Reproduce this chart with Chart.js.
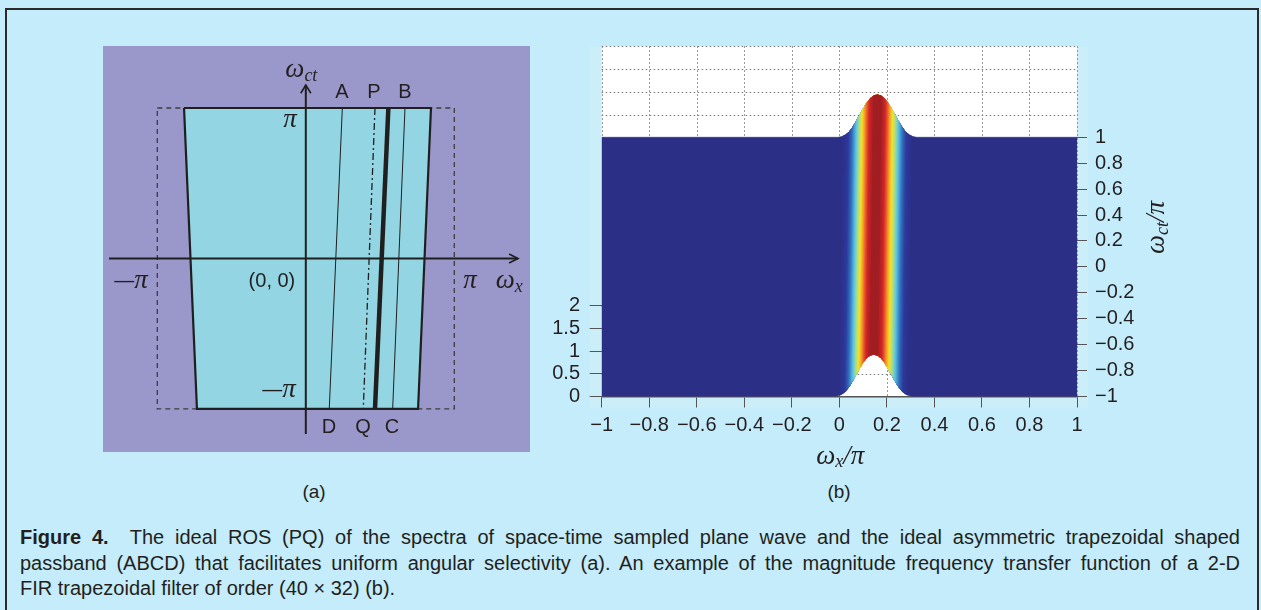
<!DOCTYPE html>
<html>
<head>
<meta charset="utf-8">
<script src="https://cdn.jsdelivr.net/npm/chart.js@4/dist/chart.umd.min.js"></script>
<style>
  html, body { margin: 0; padding: 0; width: 1261px; height: 610px; overflow: hidden;
               background: #c4ecfa; font-family: "Liberation Sans", Arial, sans-serif; color: #231f20; }
  #frame { position: absolute; left: 5px; top: 8px; width: 1250px; height: 700px; border: 2px solid #2a2a2a; }
  #panelA { position: absolute; left: 103px; top: 46px; background: #9a97ca; }
  #panelB { position: absolute; left: 545px; top: 40px; }
  .sub { position: absolute; top: 480px; font-size: 19px; line-height: 24px; transform: translateX(-50%); }
  #caption { position: absolute; left: 20px; top: 525px; width: 1220px; font-size: 20px; line-height: 25.5px; }
  #caption .j { text-align: justify; text-align-last: justify; }
</style>
</head>
<body>
<div id="frame"></div>
<canvas id="panelA" width="427" height="406"></canvas>
<canvas id="panelB" width="650" height="430"></canvas>
<div class="sub" style="left:314px">(a)</div>
<div class="sub" style="left:839px">(b)</div>
<div id="caption">
  <div class="j"><b>Figure 4.</b>&nbsp; The ideal ROS (PQ) of the spectra of space-time sampled plane wave and the ideal asymmetric trapezoidal shaped</div>
  <div class="j">passband (ABCD) that facilitates uniform angular selectivity (a). An example of the magnitude frequency transfer function of a 2-D</div>
  <div>FIR trapezoidal filter of order (40 × 32) (b).</div>
</div>

<script>
// ---------- panel (a): ideal passband, frequencies in units of pi ----------
const boxX = [-1, 1, 1, -1];
const boxY = [1, 1, -1, -1];
const trapX = [-0.820, 0.843, 0.756, -0.733];
const trapY = [1, 1, -1, -1];
// A-D, P-Q, plane wave ROS, B-C : x at wct = +pi and wct = -pi
const lineTopX = [0.246, 0.466, 0.556, 0.668];
const lineBottomX = [0.158, 0.387, 0.466, 0.585];
const axisXEnds = [-1.325, 1.429];
const axisYEnds = [-1.166, 1.153];
const letterNames = ['A', 'P', 'B', 'D', 'Q', 'C'];
const letterX = [0.244, 0.459, 0.668, 0.156, 0.385, 0.580];
const letterY = [1.106, 1.106, 1.106, -1.12, -1.12, -1.12];

// ---------- panel (b): magnitude response of the 40x32 filter ----------
const xTicks = [-1, -0.8, -0.6, -0.4, -0.2, 0, 0.2, 0.4, 0.6, 0.8, 1];
const xTickLabels = ['−1', '−0.8', '−0.6', '−0.4', '−0.2', '0', '0.2', '0.4', '0.6', '0.8', '1'];
const ctTicks = [-1, -0.8, -0.6, -0.4, -0.2, 0, 0.2, 0.4, 0.6, 0.8, 1];
const ctTickLabels = ['−1', '−0.8', '−0.6', '−0.4', '−0.2', '0', '0.2', '0.4', '0.6', '0.8', '1'];
const zTicks = [0, 0.5, 1, 1.5, 2];
const zTickLabels = ['0', '0.5', '1', '1.5', '2'];
// half cross-section of the ridge: |H| against distance from ridge centre (wx/pi)
const ridgeOffset = [0, 0.015, 0.03, 0.045, 0.06, 0.075, 0.09, 0.105, 0.12, 0.135, 0.15, 0.165];
const ridgeMag = [0.93, 0.91, 0.85, 0.75, 0.62, 0.48, 0.34, 0.21, 0.11, 0.05, 0.015, 0];
const ridgeCentreBottom = 0.145; // at wct/pi = -1
const ridgeCentreTop = 0.16;     // at wct/pi = +1

const cmapPos = [0, 0.1, 0.22, 0.375, 0.5, 0.625, 0.75, 0.875, 1];
const cmapColor = ['#2b2f86', '#2d3a9c', '#3372bd', '#57c4e8', '#a8dc8c', '#f4e424', '#f3922a', '#d9282a', '#8e1b1e'];

const Z_LIFT = 0.351;           // how far one unit of |H| lifts the surface in the view (wct/pi units)
const Y_TOP = 1 + 2 * Z_LIFT;   // back wall top (|H| = 2)

const INK = '#231f20';
const SANS = '"Liberation Sans", Arial, sans-serif';
const SERIF = '"Liberation Serif", "Times New Roman", serif';

function pts(xs, ys) { return xs.map((x, i) => ({ x: x, y: ys[i] })); }
function closed(xs, ys) { const p = pts(xs, ys); p.push(p[0]); return p; }

// draw a run of text pieces centred on (cx, cy)
function drawRich(ctx, parts, cx, cy) {
  let w = 0;
  parts.forEach(p => { ctx.font = p.font; p.w = ctx.measureText(p.t).width; w += p.w; });
  let x = cx - w / 2;
  ctx.textBaseline = 'middle';
  ctx.textAlign = 'left';
  parts.forEach(p => { ctx.font = p.font; ctx.fillText(p.t, x, cy + (p.dy || 0)); x += p.w; });
}

// ---------------- chart (a) ----------------
const lineWidths = [1, 1.3, 4.5, 1];
const lineDashes = [[], [7, 3, 2, 3], [], []];
const datasetsA = [];
datasetsA.push({ data: closed(boxX, boxY), borderColor: '#3c3c3c', borderWidth: 1.3,
                 borderDash: [5, 4], fill: false, order: 20 });
datasetsA.push({ data: closed(trapX, trapY), borderColor: '#1f1f1f', borderWidth: 2.2,
                 backgroundColor: '#93d5e2', fill: 'shape', order: 19 });
lineTopX.forEach((xt, i) => {
  datasetsA.push({ data: [{ x: xt, y: 1 }, { x: lineBottomX[i], y: -1 }], borderColor: '#1f1f1f',
                   borderWidth: lineWidths[i], borderDash: lineDashes[i], fill: false, order: 10 });
});
const ax = axisXEnds[1], ay = axisYEnds[1];
datasetsA.push({ data: [{ x: axisXEnds[0], y: 0 }, { x: ax, y: 0 }], borderColor: '#1f1f1f', borderWidth: 2, order: 5 });
datasetsA.push({ data: [{ x: ax - 0.06, y: 0.03 }, { x: ax, y: 0 }, { x: ax - 0.06, y: -0.03 }],
                 borderColor: '#1f1f1f', borderWidth: 1.6, order: 5 });
datasetsA.push({ data: [{ x: 0, y: axisYEnds[0] }, { x: 0, y: ay }], borderColor: '#1f1f1f', borderWidth: 2, order: 5 });
datasetsA.push({ data: [{ x: -0.034, y: ay - 0.055 }, { x: 0, y: ay }, { x: 0.034, y: ay - 0.055 }],
                 borderColor: '#1f1f1f', borderWidth: 1.6, order: 5 });
datasetsA.forEach(d => { d.showLine = true; d.pointRadius = 0; });

const labelsA = {
  id: 'labelsA',
  afterDatasetsDraw(chart) {
    const { ctx, scales: { x, y } } = chart;
    ctx.save();
    ctx.fillStyle = INK;
    const px = v => x.getPixelForValue(v), py = v => y.getPixelForValue(v);
    letterNames.forEach((t, i) => drawRich(ctx, [{ t: t, font: '20px ' + SANS }], px(letterX[i]), py(letterY[i])));
    const pi = { t: 'π', font: 'italic 27px ' + SERIF };
    const dash = { t: '—', font: '20px ' + SANS };
    drawRich(ctx, [pi], px(-0.106), py(0.92));
    drawRich(ctx, [dash, pi], px(-0.180), py(-0.874));
    drawRich(ctx, [dash, pi], px(-1.177), py(-0.15));
    drawRich(ctx, [pi], px(1.106), py(-0.15));
    drawRich(ctx, [{ t: '(0, 0)', font: '20px ' + SANS }], px(-0.228), py(-0.15));
    drawRich(ctx, [{ t: 'ω', font: 'italic 27px ' + SERIF }, { t: 'x', font: 'italic 18px ' + SERIF, dy: 6 }],
             px(1.37), py(-0.15));
    drawRich(ctx, [{ t: 'ω', font: 'italic 27px ' + SERIF }, { t: 'ct', font: 'italic 18px ' + SERIF, dy: 6 }],
             px(-0.03), py(1.25));
    ctx.restore();
  }
};

new Chart(document.getElementById('panelA'), {
  type: 'scatter',
  data: { datasets: datasetsA },
  options: {
    responsive: false, animation: false, devicePixelRatio: 1,
    layout: { padding: 0 },
    elements: { line: { tension: 0 } },
    plugins: { legend: { display: false }, tooltip: { enabled: false } },
    scales: {
      x: { type: 'linear', display: false, min: -1.3657, max: 1.5098 },
      y: { type: 'linear', display: false, min: -1.286, max: 1.412 }
    }
  },
  plugins: [labelsA]
});

// ---------------- chart (b) ----------------
function magAt(o) {
  o = Math.abs(o);
  for (let i = 1; i < ridgeOffset.length; i++) {
    if (o <= ridgeOffset[i]) {
      const t = (o - ridgeOffset[i - 1]) / (ridgeOffset[i] - ridgeOffset[i - 1]);
      return ridgeMag[i - 1] + t * (ridgeMag[i] - ridgeMag[i - 1]);
    }
  }
  return 0;
}
function halfWidth(m) {
  for (let i = 1; i < ridgeMag.length; i++) {
    if (ridgeMag[i] <= m) {
      const t = (ridgeMag[i - 1] - m) / (ridgeMag[i - 1] - ridgeMag[i]);
      return ridgeOffset[i - 1] + t * (ridgeOffset[i] - ridgeOffset[i - 1]);
    }
  }
  return ridgeOffset[ridgeOffset.length - 1];
}
const allOffsets = ridgeOffset.slice(1).reverse().map(o => -o).concat(ridgeOffset);
const maxMag = Math.max.apply(null, ridgeMag);

function hexRgb(h) { return [1, 3, 5].map(i => parseInt(h.substr(i, 2), 16)); }
function cmap(v) {
  for (let i = 1; i < cmapPos.length; i++) {
    if (v <= cmapPos[i]) {
      const t = (v - cmapPos[i - 1]) / (cmapPos[i] - cmapPos[i - 1]);
      const a = hexRgb(cmapColor[i - 1]), b = hexRgb(cmapColor[i]);
      return 'rgb(' + a.map((c, k) => Math.round(c + t * (b[k] - c))).join(',') + ')';
    }
  }
  return cmapColor[cmapColor.length - 1];
}

// surface seen from above: front edge (wct=-1) and back edge (wct=+1) lifted by |H|
function surfacePolygon(m) {
  let offs;
  if (m <= 0) offs = allOffsets;
  else {
    const w = halfWidth(m);
    offs = [-w].concat(allOffsets.filter(o => Math.abs(o) < w), [w]);
  }
  const top = offs.map(o => ({ x: ridgeCentreTop + o, y: 1 + Z_LIFT * magAt(o) }));
  const bottom = offs.slice().reverse().map(o => ({ x: ridgeCentreBottom + o, y: -1 + Z_LIFT * magAt(o) }));
  if (m <= 0) {
    top.unshift({ x: -1, y: 1 }); top.push({ x: 1, y: 1 });
    bottom.unshift({ x: 1, y: -1 }); bottom.push({ x: -1, y: -1 });
  }
  const p = top.concat(bottom);
  p.push(p[0]);
  return p;
}

const datasetsB = [];
const NLEV = 32;
for (let k = 0; k <= NLEV; k++) {
  const frac = k / (NLEV + 1);
  const col = cmap(frac);
  datasetsB.push({ data: surfacePolygon(frac * maxMag), showLine: true, pointRadius: 0,
                   backgroundColor: col, borderColor: col, borderWidth: 0.6, fill: 'shape', order: 200 - k });
}

const frameB = {
  id: 'frameB',
  beforeDraw(chart) {
    const { ctx, chartArea: a } = chart;
    ctx.save();
    ctx.fillStyle = '#cbeef9';
    ctx.fillRect(a.left - 12, a.top, a.right - a.left + 23, a.bottom - a.top + 12);
    ctx.fillStyle = '#ffffff';
    ctx.fillRect(a.left, a.top, a.right - a.left, a.bottom - a.top);
    ctx.restore();
  },
  beforeDatasetsDraw(chart) {
    const { ctx, chartArea: a, scales: { x, y } } = chart;
    ctx.save();
    ctx.strokeStyle = '#7a7a7a';
    ctx.lineWidth = 1;
    ctx.setLineDash([1.5, 2.5]);
    ctx.beginPath();
    xTicks.forEach(v => { const p = Math.round(x.getPixelForValue(v)) + 0.5; ctx.moveTo(p, a.top); ctx.lineTo(p, a.bottom); });
    zTicks.slice(1).forEach(z => {
      [1, -1].forEach(wall => {
        const p = Math.round(y.getPixelForValue(wall + Z_LIFT * z)) + 0.5;
        ctx.moveTo(a.left, p); ctx.lineTo(a.right, p);
      });
    });
    ctx.stroke();
    ctx.restore();
  },
  afterDraw(chart) {
    const { ctx, chartArea: a, scales: { x } } = chart;
    ctx.save();
    ctx.fillStyle = INK;
    const big = 'italic 27px ' + SERIF, small = 'italic 18px ' + SERIF;
    drawRich(ctx, [{ t: 'ω', font: big }, { t: 'x', font: small, dy: 6 }, { t: '/π', font: big }],
             x.getPixelForValue(0) + 1, a.bottom + 60);
    ctx.translate(a.right + 80, (a.top + a.bottom) / 2 + 6);
    ctx.rotate(-Math.PI / 2);
    drawRich(ctx, [{ t: 'ω', font: big }, { t: 'ct', font: small, dy: 6 }, { t: '/π', font: big }], 0, 0);
    ctx.restore();
  }
};

const tickFont = { family: SANS, size: 20 };
new Chart(document.getElementById('panelB'), {
  type: 'scatter',
  data: { datasets: datasetsB },
  options: {
    responsive: false, animation: false, devicePixelRatio: 1,
    layout: { padding: { top: 6.3, left: 0, right: 0, bottom: 0 } },
    elements: { line: { tension: 0 } },
    plugins: { legend: { display: false }, tooltip: { enabled: false } },
    scales: {
      x: {
        type: 'linear', position: 'bottom', min: -1, max: 1,
        afterBuildTicks: s => { s.ticks = xTicks.map(v => ({ value: v })); },
        afterFit: s => { s.height = 73.5; s.paddingLeft = 0; s.paddingRight = 0; },
        ticks: { autoSkip: false, maxRotation: 0, minRotation: 0, padding: 6, color: INK, font: tickFont,
                 callback: (v, i) => xTickLabels[i] },
        grid: { drawOnChartArea: false, tickLength: 11, color: '#555' },
        border: { display: true, color: '#555', width: 1.5 }
      },
      y: {
        type: 'linear', position: 'right', min: -1, max: Y_TOP,
        afterBuildTicks: s => { s.ticks = ctTicks.map(v => ({ value: v })); },
        afterFit: s => { s.width = 118; s.paddingTop = 0; s.paddingBottom = 0; },
        ticks: { autoSkip: false, padding: 8, color: INK, font: tickFont,
                 callback: (v, i) => ctTickLabels[i] },
        grid: { drawOnChartArea: false, tickLength: 10, color: '#555' },
        border: { display: false }
      },
      z: {
        type: 'linear', axis: 'y', position: 'left', min: 0, max: (Y_TOP + 1) / Z_LIFT,
        afterBuildTicks: s => { s.ticks = zTicks.map(v => ({ value: v })); },
        afterFit: s => { s.width = 56.7; s.paddingTop = 0; s.paddingBottom = 0; },
        ticks: { autoSkip: false, padding: 9.7, color: INK, font: tickFont,
                 callback: (v, i) => zTickLabels[i] },
        grid: { drawOnChartArea: false, tickLength: 12, color: '#555' },
        border: { display: false }
      }
    }
  },
  plugins: [frameB]
});
</script>
</body>
</html>
